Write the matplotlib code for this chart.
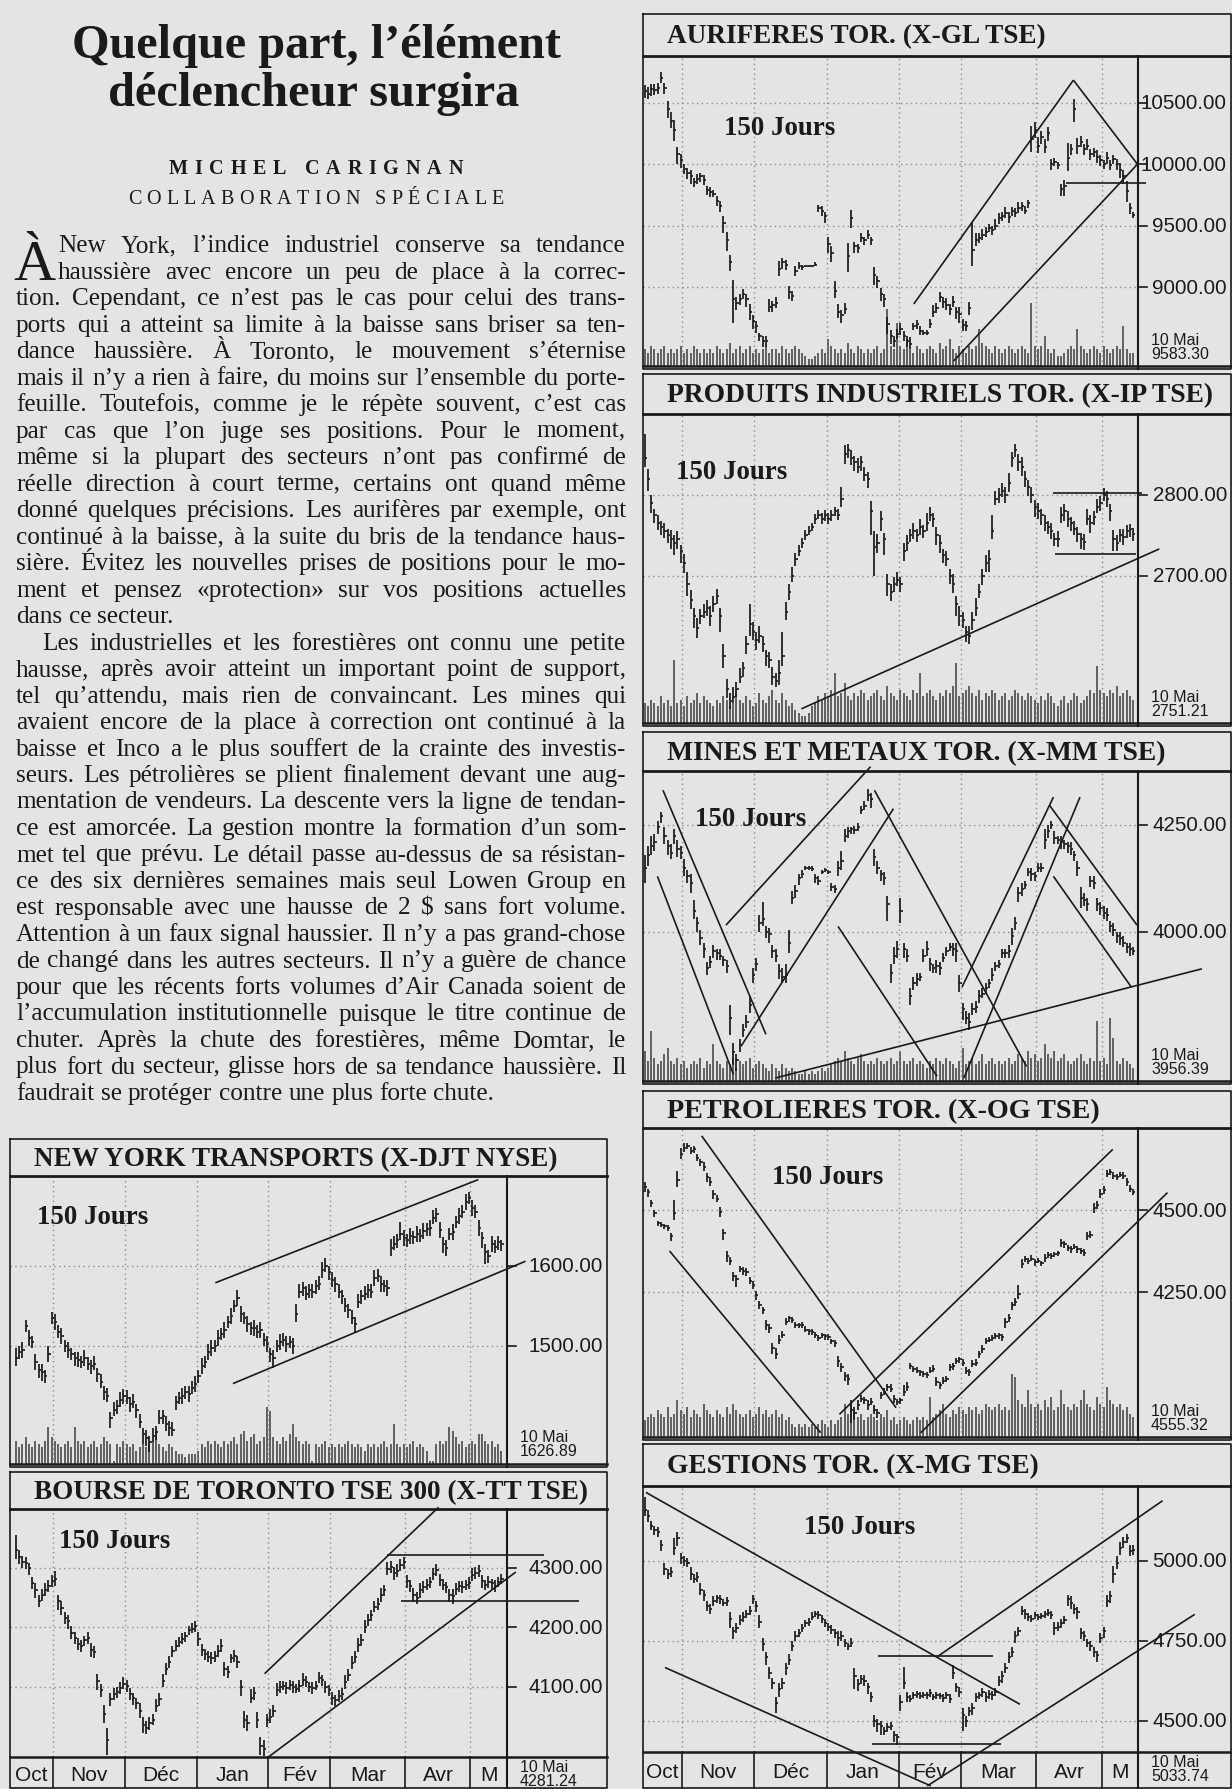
import matplotlib
matplotlib.use("Agg")
import matplotlib.pyplot as plt
from matplotlib.font_manager import FontProperties, fontManager

W, H, DPI = 1232, 1790, 100
BG = "#e4e4e4"
INK = "#1a1a1a"
GRID = "#8c8c8c"
VOLC = "#3c3c3c"

_avail = {f.name for f in fontManager.ttflist}
SERIF = "Liberation Serif" if "Liberation Serif" in _avail else "DejaVu Serif"
SANS = "Liberation Sans" if "Liberation Sans" in _avail else "DejaVu Sans"
NARROW = "Liberation Sans Narrow" if "Liberation Sans Narrow" in _avail else SANS

# ------------------------------------------------------------------ text
HEADLINE = ["Quelque part, l’élément", "déclencheur surgira"]
AUTHOR = "MICHEL CARIGNAN"
ROLE = "COLLABORATION SPÉCIALE"
DROP = "À"
BODY_LINES = [
    "New York, l’indice industriel conserve sa tendance",
    "haussière avec encore un peu de place à la correc-",
    "tion. Cependant, ce n’est pas le cas pour celui des trans-",
    "ports qui a atteint sa limite à la baisse sans briser sa ten-",
    "dance haussière. À Toronto, le mouvement s’éternise",
    "mais il n’y a rien à faire, du moins sur l’ensemble du porte-",
    "feuille. Toutefois, comme je le répète souvent, c’est cas",
    "par cas que l’on juge ses positions. Pour le moment,",
    "même si la plupart des secteurs n’ont pas confirmé de",
    "réelle direction à court terme, certains ont quand même",
    "donné quelques précisions. Les aurifères par exemple, ont",
    "continué à la baisse, à la suite du bris de la tendance haus-",
    "sière. Évitez les nouvelles prises de positions pour le mo-",
    "ment et pensez «protection» sur vos positions actuelles",
    "dans ce secteur.",
    "Les industrielles et les forestières ont connu une petite",
    "hausse, après avoir atteint un important point de support,",
    "tel qu’attendu, mais rien de convaincant. Les mines qui",
    "avaient encore de la place à correction ont continué à la",
    "baisse et Inco a le plus souffert de la crainte des investis-",
    "seurs. Les pétrolières se plient finalement devant une aug-",
    "mentation de vendeurs. La descente vers la ligne de tendan-",
    "ce est amorcée. La gestion montre la formation d’un som-",
    "met tel que prévu. Le détail passe au-dessus de sa résistan-",
    "ce des six dernières semaines mais seul Lowen Group en",
    "est responsable avec une hausse de 2 $ sans fort volume.",
    "Attention à un faux signal haussier. Il n’y a pas grand-chose",
    "de changé dans les autres secteurs. Il n’y a guère de chance",
    "pour que les récents forts volumes d’Air Canada soient de",
    "l’accumulation institutionnelle puisque le titre continue de",
    "chuter. Après la chute des forestières, même Domtar, le",
    "plus fort du secteur, glisse hors de sa tendance haussière. Il",
    "faudrait se protéger contre une plus forte chute.",
]
PARA_END = [14, 32]
PARA_START = [15]

# ------------------------------------------------------------------ chart data
MONTH_BOUNDS = [12, 34, 56, 78, 97, 120, 140]
MONTHS = ["Oct", "Nov", "Déc", "Jan", "Fév", "Mar", "Avr", "M"]
JOURS = "150 Jours"
DATE_LABEL = "10 Mai"

AUR_TITLE = "AURIFERES TOR. (X-GL TSE)"
AUR_TICKS = [9000, 9500, 10000, 10500]
AUR_LAST = "9583.30"
AUR_CL = [
    10590, 10570, 10610, 10600, 10620, 10700, 10620, 10450, 10350, 10280,
    10080, 10030, 9960, 9930, 9900, 9850, 9880, 9900, 9870, 9790,
    9770, 9760, 9700, 9660, 9520, 9380, 9200, 8900, 8870, 8900,
    8940, 8900, 8800, 8720, 8680, 8600, 8560, 8560, 8840, 8850,
    8870, 9150, 9200, 9180, 8960, 8930, 9130, 9170, 9160, 9170,
    9170, 9170, 9180, 9640, 9620, 9580, 9350, 9280, 8970, 8800,
    8770, 8820, 9250, 9560, 9330, 9320, 9400, 9380, 9420, 9380,
    9100, 9050, 8940, 8900, 8700, 8600, 8560, 8620, 8660, 8600,
    8560, 8540, 8680, 8700, 8640, 8630, 8630, 8700, 8800, 8830,
    8920, 8880, 8850, 8820, 8880, 8800, 8780, 8690, 8680, 8830,
    9300, 9380, 9400, 9420, 9450, 9480, 9460, 9500, 9560, 9580,
    9600, 9570, 9620, 9600, 9640, 9660, 9620, 9680, 10200, 10280,
    10150, 10220, 10140, 10250, 10000, 10020, 9990, 9800, 9820, 10050,
    10120, 10450, 10150, 10180, 10120, 10150, 10080, 10100, 10060, 10030,
    10000, 10050, 9990, 10040, 10000, 9950, 9900, 9780, 9640, 9583,
]
AUR_UP = [
    50, 60, 40, 50, 40, 50, 40, 60, 70, 80,
    60, 50, 40, 40, 50, 40, 40, 30, 40, 30,
    40, 30, 40, 40, 60, 70, 60, 160, 50, 40,
    40, 40, 60, 50, 40, 30, 40, 40, 60, 40,
    50, 60, 40, 40, 50, 40, 40, 30, 20, 10,
    10, 10, 20, 30, 40, 30, 60, 50, 80, 60,
    40, 50, 110, 70, 40, 30, 40, 30, 40, 30,
    60, 40, 50, 40, 60, 50, 40, 40, 50, 40,
    40, 50, 30, 30, 40, 20, 20, 40, 50, 40,
    40, 40, 60, 40, 50, 40, 60, 50, 40, 50,
    230, 60, 40, 50, 40, 30, 40, 50, 40, 30,
    50, 40, 30, 40, 50, 30, 40, 30, 110, 60,
    70, 50, 60, 50, 40, 30, 30, 40, 50, 120,
    40, 80, 60, 50, 40, 50, 40, 30, 50, 40,
    30, 50, 40, 30, 40, 60, 50, 80, 40, 30,
]
AUR_DN = [
    50, 40, 60, 40, 50, 40, 50, 80, 60, 90,
    80, 60, 40, 50, 60, 40, 40, 50, 40, 40,
    40, 30, 40, 50, 80, 90, 70, 190, 60, 50,
    40, 60, 70, 60, 50, 40, 50, 50, 40, 50,
    40, 60, 50, 40, 60, 40, 40, 20, 20, 10,
    10, 10, 10, 30, 40, 60, 70, 80, 60, 50,
    60, 40, 130, 80, 50, 40, 30, 40, 30, 40,
    80, 60, 50, 60, 80, 60, 50, 40, 50, 40,
    50, 40, 30, 40, 30, 20, 20, 30, 40, 40,
    40, 50, 40, 50, 40, 60, 70, 50, 40, 60,
    130, 50, 40, 40, 40, 30, 40, 40, 50, 40,
    40, 50, 40, 30, 40, 40, 30, 40, 100, 70,
    60, 60, 50, 60, 50, 40, 30, 60, 80, 110,
    50, 110, 70, 40, 50, 40, 50, 40, 50, 50,
    40, 50, 40, 40, 50, 60, 60, 90, 50, 20,
]
AUR_VOL = [
    5, 4, 6, 5, 4, 5, 6, 4, 5, 4,
    5, 6, 4, 5, 4, 6, 5, 4, 5, 4,
    5, 4, 6, 5, 4, 5, 7, 4, 5, 6,
    4, 5, 6, 4, 5, 4, 5, 6, 4, 5,
    5, 4, 6, 5, 4, 5, 6, 5, 4, 3,
    2, 2, 3, 4, 5, 4, 8, 6, 5, 4,
    5, 4, 7, 5, 4, 6, 5, 4, 5, 4,
    5, 6, 4, 5, 17, 6, 5, 13, 6, 5,
    8, 5, 4, 6, 5, 4, 5, 6, 5, 4,
    7, 5, 6, 8, 5, 4, 6, 5, 4, 6,
    5, 6, 11, 7, 6, 5, 4, 6, 5, 4,
    5, 6, 5, 4, 5, 6, 5, 4, 19, 6,
    5, 6, 9, 5, 4, 5, 3, 3, 4, 5,
    6, 5, 11, 6, 5, 4, 5, 6, 5, 4,
    6, 5, 4, 5, 6, 5, 12, 5, 4, 4,
]
AUR_LINES = [((82.1, 8862), (130.8, 10682)), ((94.3, 8400), (150.5, 10003)),
             ((130.8, 10682), (150.2, 10003)), ((128.5, 9845), (152.8, 9845))]

PROD_TITLE = "PRODUITS INDUSTRIELS TOR. (X-IP TSE)"
PROD_TICKS = [2700, 2800]
PROD_LAST = "2751.21"
PROD_CL = [
    2845, 2820, 2790, 2775, 2765, 2760, 2755, 2750, 2745, 2740,
    2745, 2730, 2715, 2690, 2670, 2650, 2635, 2650, 2655, 2660,
    2650, 2665, 2675, 2650, 2600, 2560, 2545, 2550, 2560, 2575,
    2585, 2615, 2640, 2630, 2620, 2625, 2615, 2600, 2595, 2575,
    2570, 2580, 2600, 2655, 2680, 2700, 2720, 2730, 2740, 2750,
    2755, 2760, 2770, 2775, 2770, 2775, 2770, 2775, 2780, 2775,
    2795, 2850, 2855, 2845, 2840, 2835, 2840, 2825, 2820, 2780,
    2735, 2740, 2770, 2745, 2690, 2680, 2690, 2695, 2690, 2730,
    2740, 2750, 2755, 2750, 2760, 2755, 2765, 2775, 2770, 2750,
    2740, 2725, 2720, 2700, 2690, 2665, 2650, 2645, 2630, 2625,
    2645, 2660, 2680, 2700, 2715, 2720, 2755, 2795, 2800, 2805,
    2800, 2815, 2845, 2855, 2840, 2835, 2820, 2810, 2800, 2785,
    2780, 2775, 2765, 2760, 2755, 2745, 2745, 2775, 2780, 2770,
    2765, 2758, 2752, 2745, 2742, 2770, 2765, 2772, 2785, 2790,
    2800, 2795, 2780, 2745, 2740, 2750, 2748, 2755, 2758, 2751,
]
PROD_UP = [
    30, 12, 10, 8, 10, 8, 10, 8, 12, 10,
    10, 8, 12, 15, 12, 10, 12, 8, 10, 10,
    12, 10, 8, 10, 15, 12, 10, 12, 8, 10,
    8, 10, 25, 12, 10, 12, 10, 8, 10, 12,
    10, 15, 30, 12, 10, 10, 8, 8, 6, 6,
    6, 5, 6, 6, 8, 6, 8, 6, 5, 8,
    15, 12, 8, 10, 8, 10, 8, 10, 8, 12,
    20, 12, 10, 8, 12, 10, 8, 10, 8, 10,
    10, 8, 10, 8, 10, 8, 12, 10, 8, 10,
    10, 8, 10, 8, 12, 10, 12, 10, 8, 12,
    10, 12, 10, 8, 10, 12, 20, 10, 8, 10,
    10, 12, 8, 8, 10, 12, 10, 8, 10, 8,
    10, 8, 10, 8, 10, 8, 10, 10, 8, 10,
    8, 10, 8, 8, 10, 12, 10, 8, 10, 8,
    8, 10, 8, 12, 10, 8, 10, 8, 6, 8,
]
PROD_DN = [
    10, 15, 12, 10, 8, 10, 8, 10, 12, 15,
    12, 15, 12, 15, 12, 15, 12, 10, 8, 10,
    12, 10, 10, 20, 15, 12, 10, 8, 10, 8,
    10, 12, 15, 10, 12, 8, 10, 12, 10, 10,
    8, 15, 12, 10, 10, 8, 8, 6, 6, 6,
    5, 5, 6, 5, 6, 8, 6, 8, 6, 6,
    10, 12, 10, 8, 10, 8, 10, 8, 12, 30,
    35, 12, 15, 20, 15, 12, 10, 8, 10, 12,
    10, 8, 10, 8, 10, 8, 10, 8, 10, 12,
    12, 10, 8, 10, 12, 15, 12, 10, 12, 10,
    12, 10, 8, 12, 10, 15, 10, 8, 10, 8,
    10, 12, 10, 8, 10, 12, 10, 12, 10, 12,
    10, 12, 10, 8, 10, 8, 10, 10, 12, 10,
    10, 8, 10, 12, 10, 8, 12, 10, 8, 10,
    8, 10, 12, 15, 10, 8, 10, 8, 10, 8,
]
PROD_VOL = [
    6, 5, 7, 6, 5, 8, 6, 7, 5, 19,
    6, 7, 5, 8, 6, 7, 9, 6, 8, 7,
    6, 5, 7, 6, 8, 7, 5, 6, 9, 7,
    6, 8, 7, 5, 6, 9, 7, 6, 8, 10,
    7, 6, 9, 7, 5, 6, 4, 3, 2, 2,
    3, 5, 6, 8, 7, 9, 8, 10, 15, 8,
    9, 12, 8, 7, 9, 8, 10, 9, 7, 8,
    9, 10, 8, 7, 11, 9, 8, 7, 10, 9,
    8, 7, 10, 9, 15, 8, 9, 10, 8, 7,
    9, 8, 10, 9, 11, 18, 8, 9, 10, 11,
    9, 8, 10, 7, 9, 8, 10, 9, 7, 8,
    9, 7, 8, 10, 9, 8, 7, 9, 8, 7,
    6, 8, 7, 9, 8, 6, 5, 7, 8, 6,
    7, 9, 8, 6, 7, 8, 10, 9, 17, 10,
    9, 8, 10, 9, 11, 8, 9, 10, 8, 7,
]
PROD_LINES = [((47.8, 2535), (157.0, 2733)), ((124.6, 2802), (151.7, 2802)),
              ((125.2, 2727), (150.0, 2727))]

MINES_TITLE = "MINES ET METAUX TOR. (X-MM TSE)"
MINES_TICKS = [4000, 4250]
MINES_LAST = "3956.39"
MINES_CL = [
    4150, 4180, 4200, 4210, 4245, 4270, 4225, 4200, 4185, 4225,
    4195, 4185, 4150, 4130, 4115, 4050, 4020, 3985, 3960, 3915,
    3930, 3955, 3950, 3945, 3935, 3920, 3800, 3720, 3700, 3735,
    3770, 3790, 3830, 3900, 3925, 4020, 4030, 4000, 3995, 3955,
    3945, 3910, 3895, 3900, 3975, 4080, 4095, 4125, 4135, 4150,
    4150, 4148, 4125, 4120, 4140, 4145, 4140, 4105, 4100, 4150,
    4165, 4225, 4235, 4240, 4238, 4245, 4285, 4295, 4320, 4310,
    4175, 4150, 4135, 4125, 4065, 3905, 3945, 3960, 4050, 3960,
    3945, 3850, 3880, 3890, 3895, 3945, 3960, 3925, 3915, 3920,
    3915, 3940, 3955, 3965, 3960, 3955, 3880, 3820, 3800, 3790,
    3820, 3825, 3850, 3855, 3870, 3880, 3900, 3920, 3925, 3950,
    3950, 3955, 3990, 4020, 4090, 4100, 4110, 4140, 4135, 4130,
    4150, 4150, 4215, 4235, 4250, 4220, 4215, 4210, 4205, 4200,
    4195, 4180, 4150, 4080, 4075, 4065, 4120, 4115, 4065, 4055,
    4045, 4040, 4015, 4005, 3990, 3985, 3975, 3965, 3960, 3956,
]
MINES_UP = [
    30, 20, 25, 20, 15, 10, 20, 15, 20, 15,
    20, 15, 20, 15, 20, 25, 15, 20, 15, 15,
    15, 15, 10, 15, 10, 15, 30, 20, 15, 15,
    15, 15, 20, 15, 15, 20, 40, 15, 15, 15,
    15, 15, 20, 25, 30, 15, 15, 10, 10, 5,
    5, 5, 10, 10, 5, 5, 5, 10, 10, 15,
    25, 15, 10, 5, 10, 10, 10, 10, 15, 15,
    20, 15, 10, 15, 20, 20, 20, 20, 30, 15,
    15, 20, 15, 15, 10, 15, 20, 15, 10, 15,
    15, 10, 10, 10, 15, 20, 20, 15, 15, 20,
    15, 15, 15, 15, 10, 10, 15, 10, 10, 10,
    10, 15, 20, 15, 15, 15, 10, 10, 15, 10,
    10, 10, 25, 15, 10, 15, 10, 15, 10, 10,
    15, 10, 15, 25, 15, 15, 10, 15, 15, 15,
    15, 15, 10, 15, 10, 15, 15, 10, 15, 10,
]
MINES_DN = [
    35, 25, 20, 20, 15, 15, 20, 20, 15, 20,
    20, 15, 20, 15, 25, 20, 20, 15, 20, 15,
    15, 15, 15, 10, 15, 15, 40, 30, 25, 15,
    15, 15, 20, 20, 15, 20, 15, 15, 20, 15,
    15, 20, 15, 20, 25, 15, 15, 15, 10, 5,
    5, 5, 10, 10, 5, 5, 5, 10, 10, 20,
    20, 15, 15, 10, 10, 10, 10, 10, 15, 20,
    20, 15, 15, 15, 40, 25, 20, 20, 30, 20,
    15, 20, 15, 15, 10, 15, 15, 15, 10, 15,
    15, 10, 10, 10, 15, 25, 20, 25, 15, 20,
    15, 15, 15, 10, 15, 10, 15, 10, 10, 10,
    10, 15, 20, 15, 20, 15, 10, 10, 15, 10,
    10, 10, 20, 15, 10, 15, 10, 15, 10, 15,
    15, 15, 20, 25, 15, 15, 15, 15, 15, 15,
    15, 15, 15, 15, 15, 15, 10, 15, 15, 10,
]
MINES_VOL = [
    9, 6, 15, 7, 5, 6, 8, 10, 6, 5,
    7, 5, 6, 4, 5, 6, 5, 7, 4, 6,
    5, 11, 6, 5, 4, 6, 5, 7, 4, 6,
    5, 6, 7, 4, 5, 6, 5, 4, 3, 5,
    4, 3, 5, 4, 3, 4, 3, 2, 2, 3,
    2, 3, 2, 3, 4, 3, 4, 5, 6, 7,
    6, 9, 7, 6, 5, 7, 8, 6, 5, 6,
    5, 7, 6, 5, 6, 7, 5, 6, 9, 6,
    5, 6, 7, 5, 6, 5, 4, 6, 5, 7,
    6, 5, 7, 6, 5, 4, 6, 10, 5, 6,
    7, 5, 6, 8, 5, 6, 7, 5, 6, 5,
    6, 7, 5, 6, 8, 7, 6, 9, 7, 8,
    6, 7, 11, 8, 7, 9, 6, 7, 8, 6,
    5, 6, 7, 8, 6, 5, 7, 6, 18, 6,
    7, 5, 19, 13, 6, 5, 7, 6, 5, 4,
]
MINES_LINES = [((5.6, 4331), (37.0, 3761)), ((3.9, 4130), (27.1, 3667)),
               ((24.8, 4016), (68.9, 4386)), ((29.4, 3733), (75.9, 4288)),
               ((70.1, 4331), (116.5, 3686)), ((59.0, 4013), (89.2, 3663)),
               ((39.9, 3659), (170.0, 3914)), ((96.8, 3871), (124.7, 4315)),
               ((97.4, 3659), (132.8, 4315)), ((123.5, 4296), (150.2, 4016)),
               ((124.7, 4130), (148.5, 3871))]

PETRO_TITLE = "PETROLIERES TOR. (X-OG TSE)"
PETRO_TICKS = [4250, 4500]
PETRO_LAST = "4555.32"
PETRO_CL = [
    4570, 4555, 4520, 4490, 4460, 4455, 4450, 4445, 4420, 4490,
    4590, 4670, 4690, 4695, 4680, 4685, 4660, 4645, 4630, 4600,
    4585, 4550, 4535, 4495, 4430, 4360, 4345, 4300, 4290, 4320,
    4315, 4310, 4285, 4270, 4240, 4210, 4195, 4150, 4140, 4080,
    4060, 4105, 4120, 4160, 4170, 4165, 4150, 4148, 4150, 4135,
    4130, 4128, 4120, 4110, 4118, 4115, 4112, 4100, 4095, 4040,
    4020, 3995, 3985, 3890, 3880, 3905, 3925, 3920, 3905, 3915,
    3890, 3880, 3935, 3945, 3960, 3955, 3925, 3915, 3920, 3945,
    3960, 4025, 4015, 4010, 4005, 4000, 3998, 4010, 4015, 3975,
    3965, 3980, 3985, 4020, 4025, 4040, 4045, 4035, 4010, 4005,
    4030, 4035, 4060, 4075, 4100, 4105, 4110, 4115, 4118, 4112,
    4160, 4170, 4210, 4220, 4245, 4335, 4350, 4345, 4352, 4340,
    4345, 4338, 4355, 4362, 4360, 4365, 4368, 4400, 4395, 4385,
    4380, 4388, 4380, 4375, 4370, 4420, 4425, 4505, 4515, 4550,
    4560, 4610, 4615, 4605, 4600, 4608, 4605, 4585, 4565, 4555,
]
PETRO_UP = [
    15, 10, 12, 10, 8, 8, 8, 8, 10, 40,
    30, 20, 15, 10, 12, 10, 10, 12, 15, 12,
    15, 12, 10, 15, 12, 15, 12, 10, 12, 10,
    10, 12, 10, 15, 12, 12, 10, 15, 12, 15,
    20, 15, 12, 10, 8, 10, 8, 8, 8, 10,
    8, 10, 8, 10, 8, 8, 10, 8, 10, 15,
    15, 10, 15, 30, 20, 15, 12, 10, 15, 12,
    15, 12, 10, 12, 10, 15, 12, 10, 8, 20,
    15, 10, 8, 10, 8, 10, 8, 10, 12, 15,
    12, 10, 8, 12, 10, 10, 8, 12, 10, 10,
    12, 10, 10, 12, 10, 8, 8, 10, 8, 10,
    12, 12, 10, 12, 25, 15, 10, 8, 10, 10,
    10, 8, 12, 10, 8, 8, 8, 12, 10, 8,
    10, 8, 10, 8, 10, 12, 10, 15, 12, 15,
    12, 12, 10, 10, 10, 8, 10, 12, 10, 8,
]
PETRO_DN = [
    15, 15, 12, 12, 10, 8, 8, 10, 15, 20,
    20, 15, 12, 10, 10, 10, 12, 10, 12, 15,
    12, 15, 12, 15, 20, 20, 12, 15, 25, 10,
    12, 10, 12, 12, 15, 12, 12, 15, 15, 20,
    15, 12, 10, 12, 10, 8, 10, 8, 10, 8,
    10, 8, 10, 8, 8, 10, 8, 10, 12, 20,
    15, 15, 20, 40, 20, 15, 10, 12, 15, 10,
    12, 15, 10, 10, 12, 10, 12, 10, 10, 12,
    12, 10, 10, 8, 10, 10, 10, 8, 10, 12,
    12, 10, 10, 10, 12, 10, 10, 12, 10, 10,
    10, 12, 10, 10, 10, 8, 10, 8, 10, 12,
    20, 12, 15, 12, 15, 12, 10, 10, 8, 10,
    8, 10, 12, 8, 10, 8, 8, 12, 10, 10,
    10, 8, 10, 8, 10, 12, 10, 15, 12, 12,
    12, 10, 8, 12, 10, 8, 10, 12, 10, 10,
]
PETRO_VOL = [
    5, 6, 7, 6, 8, 7, 6, 9, 6, 7,
    11, 8, 7, 9, 6, 8, 7, 6, 10, 8,
    7, 6, 8, 7, 6, 9, 7, 10, 8, 7,
    6, 7, 8, 6, 7, 9, 7, 8, 6, 7,
    8, 6, 7, 5, 6, 4, 3, 4, 3, 4,
    3, 4, 3, 4, 5, 4, 3, 5, 4, 5,
    6, 10, 7, 10, 8, 6, 7, 5, 6, 7,
    6, 5, 7, 6, 8, 5, 6, 4, 5, 6,
    5, 4, 5, 6, 5, 6, 5, 12, 6, 7,
    8, 10, 7, 6, 8, 7, 9, 8, 7, 9,
    8, 9, 7, 8, 10, 9, 8, 9, 10, 8,
    9, 8, 19, 18, 11, 10, 9, 14, 10, 9,
    10, 8, 11, 9, 12, 8, 9, 14, 10, 9,
    8, 10, 9, 11, 14, 10, 9, 8, 12, 10,
    9, 15, 11, 10, 9, 10, 8, 9, 7, 6,
]
PETRO_LINES = [((17.4, 4726), (76.7, 3897)), ((7.6, 4375), (53.7, 3821)),
               ((59.4, 3877), (142.8, 4685)), ((84.2, 3821), (159.5, 4553))]

GEST_TITLE = "GESTIONS TOR. (X-MG TSE)"
GEST_TICKS = [4500, 4750, 5000]
GEST_LAST = "5033.74"
GEST_CL = [
    5160, 5140, 5110, 5095, 5090, 5050, 4975, 4960, 4965, 5040,
    5070, 5010, 5000, 4995, 4960, 4945, 4950, 4910, 4895, 4860,
    4850, 4875, 4885, 4880, 4870, 4875, 4820, 4780, 4790, 4815,
    4825, 4835, 4845, 4880, 4860, 4810, 4740, 4700, 4650, 4620,
    4555, 4600, 4620, 4665, 4690, 4735, 4765, 4775, 4790, 4805,
    4810, 4825, 4835, 4830, 4820, 4805, 4795, 4785, 4775, 4760,
    4765, 4745, 4735, 4745, 4640, 4615, 4630, 4625, 4605, 4575,
    4500, 4490, 4485, 4470, 4480, 4485, 4455, 4450, 4560, 4620,
    4575, 4570, 4580, 4585, 4578, 4582, 4580, 4588, 4575, 4580,
    4578, 4572, 4580, 4570, 4650, 4605, 4590, 4520, 4500, 4530,
    4540, 4575, 4580, 4590, 4575, 4585, 4580, 4590, 4625, 4640,
    4665, 4700, 4715, 4765, 4780, 4845, 4835, 4825, 4820, 4830,
    4825, 4828, 4835, 4838, 4830, 4790, 4795, 4805, 4815, 4880,
    4870, 4850, 4840, 4775, 4765, 4745, 4735, 4715, 4705, 4760,
    4780, 4875, 4890, 4960, 4995, 5040, 5060, 5070, 5030, 5034,
]
GEST_UP = [
    40, 20, 15, 15, 15, 15, 20, 15, 15, 30,
    20, 15, 15, 15, 20, 15, 15, 20, 15, 15,
    15, 15, 10, 15, 12, 12, 20, 15, 15, 15,
    15, 12, 15, 15, 15, 20, 20, 15, 20, 15,
    20, 20, 15, 15, 20, 15, 15, 12, 12, 10,
    12, 15, 10, 12, 10, 12, 10, 15, 12, 20,
    15, 12, 10, 15, 25, 15, 15, 20, 15, 15,
    20, 15, 15, 12, 15, 12, 15, 10, 20, 50,
    15, 12, 10, 10, 12, 10, 10, 12, 10, 10,
    10, 12, 10, 15, 25, 15, 15, 20, 15, 15,
    15, 12, 10, 12, 15, 12, 15, 12, 15, 15,
    15, 15, 15, 15, 15, 15, 15, 12, 12, 10,
    10, 10, 10, 12, 12, 20, 15, 15, 12, 15,
    20, 15, 15, 15, 15, 12, 15, 15, 15, 15,
    15, 20, 15, 25, 20, 20, 15, 15, 20, 15,
]
GEST_DN = [
    20, 20, 15, 15, 15, 20, 20, 15, 15, 20,
    25, 20, 15, 15, 20, 15, 15, 15, 20, 15,
    15, 15, 15, 15, 12, 15, 30, 25, 15, 15,
    15, 12, 15, 15, 20, 20, 20, 25, 20, 20,
    30, 25, 20, 20, 15, 15, 15, 12, 12, 10,
    12, 10, 10, 12, 15, 12, 15, 12, 15, 25,
    15, 15, 12, 15, 40, 20, 15, 15, 20, 15,
    20, 25, 30, 15, 15, 12, 20, 25, 30, 20,
    15, 12, 10, 12, 10, 10, 10, 12, 10, 10,
    10, 12, 10, 15, 20, 15, 15, 50, 20, 15,
    20, 15, 12, 15, 15, 15, 15, 12, 15, 20,
    15, 20, 15, 20, 15, 15, 15, 12, 12, 10,
    10, 10, 12, 10, 12, 20, 15, 15, 12, 20,
    20, 15, 20, 20, 15, 15, 15, 15, 20, 15,
    20, 20, 20, 30, 20, 20, 20, 15, 15, 15,
]
GEST_LINES = [((0.4, 5214), (114.5, 4552)), ((6.2, 4667), (87.3, 4297)),
              ((71.1, 4703), (106.4, 4703)), ((69.4, 4427), (108.8, 4427)),
              ((89.6, 4703), (158.0, 5188)), ((86.2, 4297), (167.8, 4833))]

NY_TITLE = "NEW YORK TRANSPORTS (X-DJT NYSE)"
NY_TICKS = [1500, 1600]
NY_LAST = "1626.89"
NY_CL = [
    1485, 1492, 1495, 1525, 1510, 1505, 1480, 1470, 1468, 1462,
    1490, 1535, 1530, 1518, 1512, 1500, 1495, 1490, 1485, 1482,
    1480, 1485, 1478, 1475, 1478, 1465, 1455, 1442, 1438, 1410,
    1420, 1425, 1432, 1438, 1435, 1428, 1430, 1420, 1405, 1390,
    1385, 1380, 1388, 1392, 1410, 1412, 1402, 1398, 1395, 1430,
    1435, 1438, 1442, 1440, 1448, 1452, 1462, 1475, 1480, 1492,
    1497, 1500, 1510, 1515, 1520, 1530, 1538, 1550, 1560, 1540,
    1535, 1528, 1522, 1522, 1518, 1520, 1508, 1502, 1490, 1485,
    1500, 1505, 1508, 1502, 1505, 1500, 1540, 1568, 1572, 1565,
    1570, 1568, 1575, 1578, 1595, 1600, 1592, 1582, 1578, 1568,
    1562, 1550, 1545, 1535, 1528, 1555, 1562, 1565, 1570, 1568,
    1585, 1588, 1578, 1575, 1572, 1622, 1628, 1632, 1640, 1635,
    1632, 1638, 1636, 1640, 1638, 1644, 1646, 1648, 1660, 1665,
    1645, 1628, 1622, 1640, 1642, 1655, 1662, 1668, 1680, 1685,
    1672, 1668, 1648, 1635, 1618, 1612, 1628, 1624, 1630, 1627,
]
NY_UP = [
    12, 8, 10, 8, 10, 8, 10, 8, 10, 8,
    10, 8, 10, 8, 10, 8, 10, 8, 8, 10,
    8, 10, 8, 8, 10, 8, 10, 8, 10, 8,
    10, 8, 10, 8, 10, 8, 10, 8, 10, 8,
    10, 8, 10, 8, 10, 8, 10, 8, 10, 8,
    8, 10, 8, 10, 8, 10, 8, 10, 8, 10,
    10, 8, 10, 8, 10, 8, 10, 8, 10, 10,
    8, 10, 8, 10, 8, 10, 8, 10, 8, 10,
    8, 10, 8, 10, 8, 10, 12, 10, 8, 10,
    8, 10, 8, 10, 10, 10, 8, 10, 8, 10,
    8, 10, 8, 10, 8, 10, 8, 10, 8, 10,
    10, 8, 10, 8, 10, 12, 10, 8, 15, 10,
    8, 10, 8, 10, 8, 10, 8, 10, 10, 8,
    10, 8, 10, 8, 10, 8, 10, 8, 10, 8,
    10, 8, 10, 8, 10, 8, 10, 8, 8, 6,
]
NY_DN = [
    10, 8, 10, 8, 10, 8, 10, 10, 12, 8,
    10, 8, 10, 8, 10, 8, 10, 8, 10, 8,
    8, 10, 8, 10, 8, 10, 8, 10, 8, 12,
    8, 10, 8, 10, 8, 10, 8, 10, 8, 12,
    10, 12, 8, 10, 8, 10, 8, 10, 8, 10,
    8, 10, 8, 10, 8, 10, 8, 10, 8, 10,
    10, 8, 10, 8, 10, 8, 10, 8, 10, 10,
    8, 10, 8, 10, 8, 10, 8, 10, 10, 12,
    8, 10, 8, 10, 8, 10, 10, 8, 10, 8,
    10, 8, 10, 8, 10, 8, 10, 8, 10, 8,
    10, 8, 10, 8, 10, 8, 10, 8, 10, 8,
    10, 8, 10, 8, 10, 10, 8, 10, 8, 10,
    8, 10, 8, 10, 8, 10, 8, 10, 8, 10,
    10, 12, 10, 8, 10, 8, 10, 8, 10, 8,
    10, 8, 10, 12, 15, 8, 10, 8, 10, 8,
]
NY_VOL = [
    7, 5, 6, 8, 6, 5, 7, 6, 5, 7,
    11, 8, 7, 6, 5, 6, 7, 5, 11, 7,
    6, 7, 5, 6, 7, 5, 6, 8, 7, 6,
    1, 6, 5, 7, 6, 5, 6, 4, 5, 6,
    5, 6, 7, 10, 6, 5, 4, 6, 5, 4,
    3, 3, 2, 3, 3, 3, 4, 6, 5, 7,
    6, 7, 6, 5, 7, 6, 7, 8, 6, 9,
    10, 7, 8, 9, 6, 7, 8, 17, 16, 8,
    7, 6, 8, 7, 9, 12, 8, 7, 6, 7,
    6, 1, 6, 5, 6, 7, 5, 6, 5, 6,
    5, 6, 7, 6, 5, 6, 5, 4, 6, 5,
    6, 5, 6, 7, 5, 6, 12, 6, 5, 6,
    5, 6, 7, 5, 6, 5, 4, 1, 1, 6,
    7, 6, 7, 11, 10, 8, 6, 7, 5, 6,
    7, 6, 9, 9, 7, 6, 7, 5, 6, 4,
]
NY_LINES = [((61.2, 1579), (141.9, 1708)), ((66.6, 1453), (156.4, 1606))]

TSE_TITLE = "BOURSE DE TORONTO TSE 300 (X-TT TSE)"
TSE_TICKS = [4100, 4200, 4300]
TSE_LAST = "4281.24"
TSE_CL = [
    4330, 4318, 4310, 4308, 4300, 4275, 4262, 4245, 4255, 4262,
    4270, 4278, 4282, 4245, 4232, 4215, 4210, 4190, 4182, 4172,
    4168, 4178, 4182, 4162, 4158, 4110, 4095, 4055, 4010, 4080,
    4088, 4092, 4098, 4105, 4102, 4088, 4082, 4072, 4060, 4035,
    4030, 4040, 4045, 4068, 4080, 4110, 4130, 4142, 4160, 4168,
    4175, 4180, 4185, 4195, 4198, 4202, 4180, 4162, 4155, 4150,
    4148, 4152, 4160, 4168, 4130, 4125, 4148, 4152, 4142, 4100,
    4045, 4040, 4082, 4090, 4045, 4000, 3995, 4045, 4050, 4060,
    4095, 4100, 4102, 4098, 4103, 4100, 4097, 4102, 4112, 4108,
    4100, 4098, 4102, 4115, 4112, 4100, 4095, 4082, 4078, 4085,
    4088, 4108, 4120, 4140, 4150, 4170, 4178, 4200, 4212, 4220,
    4235, 4240, 4255, 4262, 4298, 4302, 4292, 4295, 4305, 4310,
    4278, 4270, 4255, 4250, 4262, 4268, 4272, 4276, 4290, 4296,
    4280, 4272, 4268, 4255, 4252, 4265, 4270, 4268, 4272, 4275,
    4288, 4292, 4295, 4278, 4272, 4276, 4274, 4270, 4276, 4281,
]
TSE_UP = [
    25, 12, 10, 10, 8, 10, 12, 10, 10, 12,
    10, 10, 12, 10, 12, 10, 10, 12, 10, 10,
    10, 8, 10, 12, 10, 12, 10, 15, 20, 10,
    10, 8, 10, 12, 10, 10, 8, 10, 12, 15,
    12, 10, 10, 12, 10, 12, 10, 10, 8, 10,
    8, 10, 8, 8, 10, 8, 12, 10, 8, 10,
    10, 8, 10, 12, 12, 10, 8, 10, 10, 12,
    15, 12, 15, 10, 12, 15, 15, 10, 12, 10,
    12, 10, 8, 10, 8, 10, 8, 10, 12, 10,
    8, 10, 8, 10, 8, 10, 8, 10, 8, 10,
    10, 12, 10, 12, 10, 12, 10, 12, 10, 10,
    10, 10, 12, 10, 12, 10, 10, 12, 10, 8,
    10, 10, 12, 10, 12, 10, 10, 8, 10, 10,
    10, 10, 8, 10, 12, 10, 8, 10, 8, 10,
    12, 10, 10, 10, 8, 10, 8, 10, 8, 8,
]
TSE_DN = [
    15, 12, 10, 10, 12, 10, 12, 10, 10, 10,
    10, 10, 12, 15, 12, 10, 12, 10, 10, 10,
    10, 10, 10, 12, 10, 15, 12, 15, 25, 12,
    10, 10, 10, 8, 10, 10, 12, 10, 12, 12,
    10, 12, 10, 10, 12, 10, 10, 10, 10, 8,
    8, 8, 10, 8, 8, 10, 12, 10, 10, 8,
    10, 10, 10, 10, 12, 10, 8, 10, 10, 15,
    15, 15, 10, 12, 15, 15, 12, 12, 10, 10,
    10, 10, 8, 10, 8, 10, 8, 10, 10, 8,
    8, 10, 8, 8, 10, 10, 10, 12, 10, 10,
    10, 12, 10, 10, 10, 12, 10, 10, 10, 10,
    10, 10, 12, 10, 10, 10, 12, 10, 10, 12,
    12, 10, 12, 10, 12, 10, 10, 10, 10, 10,
    10, 10, 10, 12, 12, 10, 10, 10, 10, 10,
    10, 10, 10, 12, 10, 10, 10, 10, 8, 8,
]
TSE_LINES = [((76.3, 4122), (129.7, 4402)), ((77.5, 3982), (153.4, 4293)),
             ((114.0, 4321), (161.9, 4321)), ((118.2, 4244), (172.8, 4244))]

# ------------------------------------------------------------------ figure
fig = plt.figure(figsize=(W / DPI, H / DPI), dpi=DPI, facecolor=BG)
ov = fig.add_axes([0, 0, 1, 1])
ov.set_xlim(0, W)
ov.set_ylim(H, 0)
ov.axis("off")
ov.patch.set_alpha(0)
ov.set_zorder(5)
renderer = fig.canvas.get_renderer()


def FP(family, size, weight="normal"):
    return FontProperties(family=family, size=size, weight=weight)


def tw(s, fp):
    w, _, _ = renderer.get_text_width_height_descent(s, fp, ismath=False)
    return w


def fit_size(s, family, weight, target, base=20.0):
    return base * target / tw(s, FP(family, base, weight))


def px_rect(x0, y0, x1, y1):
    return [x0 / W, 1 - y1 / H, (x1 - x0) / W, (y1 - y0) / H]


# ---- headline
for line, cx, yb, tgt in [(HEADLINE[0], 316, 58, 490), (HEADLINE[1], 314, 106, 412)]:
    sz = fit_size(line, SERIF, "bold", tgt)
    ov.text(cx, yb, line, fontproperties=FP(SERIF, sz, "bold"), ha="center",
            va="baseline", color=INK)


def spaced(s, cx, yb, fp, target):
    sp = tw("n n", fp) - tw("nn", fp)
    ws = [sp if c == " " else tw(c, fp) for c in s]
    extra = (target - sum(ws)) / (len(s) - 1)
    x = cx - target / 2
    for c, w in zip(s, ws):
        if c != " ":
            ov.text(x, yb, c, fontproperties=fp, ha="left", va="baseline", color=INK)
        x += w + extra


spaced(AUTHOR, 316, 174, FP(SERIF, 14.5, "bold"), 294)
spaced(ROLE, 316, 204, FP(SERIF, 14.5), 376)

# ---- body text, justified
XL, XR = 16, 626
Y0, LS = 252, 26.5
BODY_SIZE = 18.2


def justified(words, xl, xr, yb, size, last, depth=0):
    fp = FP(SERIF, size)
    ws = [tw(w, fp) for w in words]
    sp = tw("n n", fp) - tw("nn", fp)
    total = sum(ws)
    n = len(words)
    if last or n == 1:
        gap = sp
    else:
        gap = (xr - xl - total) / (n - 1)
        if gap < 0.55 * sp and depth < 4:
            f = (xr - xl) / (total + (n - 1) * 0.7 * sp)
            return justified(words, xl, xr, yb, size * f, last, depth + 1)
    x = xl
    for w, wd in zip(words, ws):
        ov.text(x, yb, w, fontproperties=fp, ha="left", va="baseline", color=INK)
        x += wd + gap


for i, line in enumerate(BODY_LINES):
    xl = XL
    if i in (0, 1):
        xl = 58
    if i in PARA_START:
        xl = XL + 26
    justified(line.split(" "), xl, XR, Y0 + i * LS, BODY_SIZE, i in PARA_END)

ov.text(13, Y0 + LS + 1, DROP, fontproperties=FP(SERIF, 42), ha="left",
        va="baseline", color=INK)


# ---- charts
def chart(title, title_w, jours_xy, x0, xsep, x1, top, tb, pb, bottom, xlim, ylim,
          cl, up, dn, vol, vol_top, ticks, lines, last, band):
    rect = px_rect(x0, tb, xsep, pb)

    def xpx(d):
        return x0 + (d - xlim[0]) / (xlim[1] - xlim[0]) * (xsep - x0)

    def ypx(v):
        return tb + (ylim[1] - v) / (ylim[1] - ylim[0]) * (pb - tb)

    if vol is not None:
        va = fig.add_axes(rect)
        va.set_xlim(*xlim)
        va.set_ylim(0, vol_top)
        va.axis("off")
        va.patch.set_alpha(0)
        va.vlines(range(len(vol)), 0, vol, color=VOLC, lw=1.1)
    ax = fig.add_axes(rect)
    ax.set_xlim(*xlim)
    ax.set_ylim(*ylim)
    ax.axis("off")
    ax.patch.set_alpha(0)
    for t in ticks:
        ax.axhline(t, color=GRID, lw=1.0, ls=(0, (1, 2.5)))
    for b in MONTH_BOUNDS:
        ax.axvline(b - 0.5, color=GRID, lw=1.0, ls=(0, (1, 2.5)))
    n = min(len(cl), len(up), len(dn))
    xs = list(range(n))
    lo = [cl[i] - dn[i] for i in xs]
    hi = [cl[i] + up[i] for i in xs]
    ax.vlines(xs, lo, hi, color=INK, lw=1.25)
    ax.hlines(cl[:n], xs, [x + 0.7 for x in xs], color=INK, lw=1.2)
    for a, b in lines:
        ax.plot([a[0], b[0]], [a[1], b[1]], color=INK, lw=1.2, clip_on=False,
                solid_capstyle="butt")

    # frame
    ov.plot([x0, x1, x1, x0, x0], [top, top, bottom, bottom, top], color=INK, lw=1.2)
    ov.plot([x0, x1], [tb, tb], color=INK, lw=2.0)
    ov.plot([x0, x1], [pb, pb], color=INK, lw=1.8)
    ov.plot([xsep, xsep], [tb, bottom], color=INK, lw=1.5)
    tsz = fit_size(title, SERIF, "bold", title_w)
    ov.text(x0 + 24, (top + tb) / 2 + 1, title, fontproperties=FP(SERIF, tsz, "bold"),
            ha="left", va="center", color=INK)
    jsz = fit_size(JOURS, SERIF, "bold", 111)
    ov.text(jours_xy[0], jours_xy[1], JOURS, fontproperties=FP(SERIF, jsz, "bold"),
            ha="left", va="center", color=INK)
    for t in ticks:
        y = ypx(t)
        ov.plot([xsep, xsep + 9], [y, y], color=INK, lw=1.2)
        ov.text(x1 - 4, y, f"{t:.2f}", fontproperties=FP(SANS, 14.8), ha="right",
                va="center", color=INK)
    if band:
        ys = (pb + 10, pb + 24)
        edges = [xlim[0]] + [b - 0.5 for b in MONTH_BOUNDS] + [xlim[1]]
        for b in MONTH_BOUNDS:
            xb = xpx(b - 0.5)
            ov.plot([xb, xb], [pb, bottom], color=INK, lw=1.2)
        for k, m in enumerate(MONTHS):
            xc = (xpx(edges[k]) + xpx(edges[k + 1])) / 2
            ov.text(xc, (pb + bottom) / 2 + 2, m, fontproperties=FP(SANS, 15),
                    ha="center", va="center", color=INK)
    else:
        ys = (pb - 27, pb - 13)
    ov.text(xsep + 13, ys[0], DATE_LABEL, fontproperties=FP(NARROW, 11.5), ha="left",
            va="center", color=INK)
    ov.text(xsep + 13, ys[1], last, fontproperties=FP(NARROW, 11.5), ha="left",
            va="center", color=INK)


RX0, RSEP, RX1 = 643, 1138, 1231
RXLIM = (-0.5, 150.5)
LX0, LSEP, LX1 = 10, 507, 607
LXLIM = (-1.8, 150.7)

chart(AUR_TITLE, 378, (724, 128), RX0, RSEP, RX1, 15, 57, 367, 370, RXLIM, (8358, 10878),
      AUR_CL, AUR_UP, AUR_DN, AUR_VOL, 93, AUR_TICKS, AUR_LINES, AUR_LAST, False)
chart(PROD_TITLE, 544, (676, 472), RX0, RSEP, RX1, 375, 415, 724, 727, RXLIM, (2517.5, 2900),
      PROD_CL, PROD_UP, PROD_DN, PROD_VOL, 92.7, PROD_TICKS, PROD_LINES, PROD_LAST, False)
chart(MINES_TITLE, 498, (695, 820), RX0, RSEP, RX1, 733, 772, 1082, 1085, RXLIM, (3652, 4376),
      MINES_CL, MINES_UP, MINES_DN, MINES_VOL, 93, MINES_TICKS, MINES_LINES, MINES_LAST, False)
chart(PETRO_TITLE, 432, (772, 1177), RX0, RSEP, RX1, 1092, 1129, 1438, 1441, RXLIM, (3808, 4750),
      PETRO_CL, PETRO_UP, PETRO_DN, PETRO_VOL, 92.7, PETRO_TICKS, PETRO_LINES, PETRO_LAST, False)
chart(GEST_TITLE, 370, (804, 1528), RX0, RSEP, RX1, 1445, 1487, 1753, 1789, RXLIM, (4403, 5234),
      GEST_CL, GEST_UP, GEST_DN, None, 1, GEST_TICKS, GEST_LINES, GEST_LAST, True)
chart(NY_TITLE, 521, (37, 1217), LX0, LSEP, LX1, 1140, 1177, 1465, 1468, LXLIM, (1352.5, 1712.5),
      NY_CL, NY_UP, NY_DN, NY_VOL, 86.5, NY_TICKS, NY_LINES, NY_LAST, False)
chart(TSE_TITLE, 553, (59, 1542), LX0, LSEP, LX1, 1473, 1510, 1758, 1789, LXLIM, (3982, 4399),
      TSE_CL, TSE_UP, TSE_DN, None, 1, TSE_TICKS, TSE_LINES, TSE_LAST, True)

fig.savefig("out.png", dpi=DPI, facecolor=BG)
